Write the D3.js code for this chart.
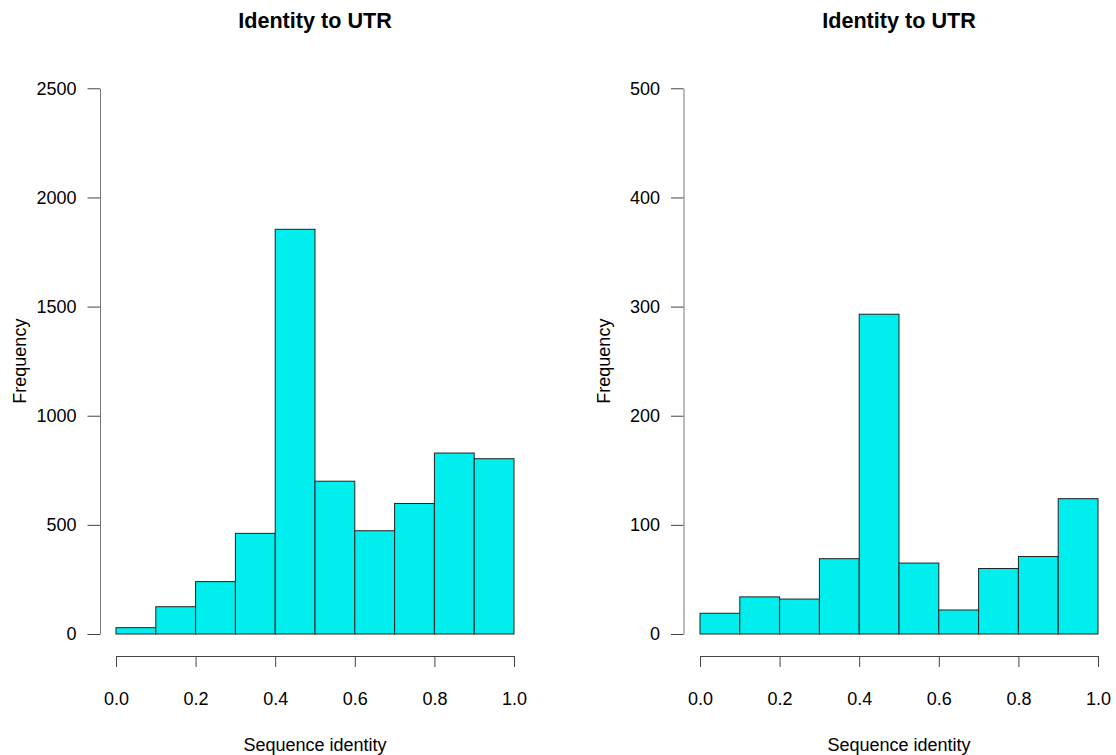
<!DOCTYPE html>
<html>
<head>
<meta charset="utf-8">
<script src="https://cdn.jsdelivr.net/npm/d3@7"></script>
<style>
  body { margin: 0; background: #fff; }
  svg { display: block; }
  text { font-family: "Liberation Sans", Arial, Helvetica, sans-serif; fill: #000; }
  .tick text { font-size: 18px; }
</style>
</head>
<body>
<div id="chart"></div>
<script>
// bin edges shared by both histograms
var binEdges = [0, 0.1, 0.2, 0.3, 0.4, 0.5, 0.6, 0.7, 0.8, 0.9, 1.0]

// counts per bin
var countsLeft = [29, 125, 240, 461, 1854, 700, 473, 598, 829, 803]
var countsRight = [19, 34, 32, 69, 293, 65, 22, 60, 71, 124]

var xTicks = [0, 0.2, 0.4, 0.6, 0.8, 1.0]
var yTicksLeft = [0, 500, 1000, 1500, 2000, 2500]
var yTicksRight = [0, 100, 200, 300, 400, 500]

var titles = ['Identity to UTR', 'Identity to UTR']
var xLabel = 'Sequence identity'
var yLabel = 'Frequency'

var W = 1116, H = 755
var svg = d3.select('#chart').append('svg')
  .attr('width', W).attr('height', H)

var panels = [
  {counts: countsLeft, yTicks: yTicksLeft, title: titles[0], x0: 116, x1: 514, axisX: 100, ylabX: 26},
  {counts: countsRight, yTicks: yTicksRight, title: titles[1], x0: 700, x1: 1098, axisX: 683.5, ylabX: 610}
]

var yBottom = 634, yTop = 88.3

panels.forEach(p => {
  var bins = p.counts.map((c, i) => ({lo: binEdges[i], hi: binEdges[i + 1], n: c}))

  var x = d3.scaleLinear().domain([0, 1]).range([p.x0, p.x1])
  var y = d3.scaleLinear().domain([0, d3.max(p.yTicks)]).range([yBottom, yTop])

  var g = svg.append('g')

  g.selectAll('rect.bar').data(bins).join('rect')
    .attr('class', 'bar')
    .attr('x', d => x(d.lo))
    .attr('y', d => y(d.n))
    .attr('width', d => x(d.hi) - x(d.lo))
    .attr('height', d => y(0) - y(d.n))
    .attr('fill', '#00eeee')
    .attr('stroke', '#222')
    .attr('stroke-width', 1)

  // y axis, R style: numbers horizontal, no outer ticks
  var yAxis = d3.axisLeft(y).tickValues(p.yTicks).tickFormat(d3.format('d'))
    .tickSize(12.5).tickSizeOuter(0).tickPadding(11)
  var ya = g.append('g').attr('transform', `translate(${p.axisX},0)`).call(yAxis)
  ya.select('.domain').attr('stroke', '#777')
  ya.selectAll('.tick line').attr('stroke', '#444')
  ya.selectAll('.tick text').attr('fill', '#222').style('font-family', '"Liberation Sans", Arial, sans-serif')

  // x axis below the bars
  var xAxis = d3.axisBottom(x).tickValues(xTicks).tickFormat(d3.format('.1f'))
    .tickSize(11).tickSizeOuter(0).tickPadding(25)
  var xa = g.append('g').attr('transform', 'translate(0,656)').call(xAxis)
  xa.select('.domain').attr('stroke', '#444')
  xa.selectAll('.tick line').attr('stroke', '#444')
  xa.selectAll('.tick text').attr('fill', '#222').style('font-family', '"Liberation Sans", Arial, sans-serif')

  var cx = (p.x0 + p.x1) / 2

  g.append('text')
    .attr('x', cx).attr('y', 28)
    .attr('text-anchor', 'middle')
    .style('font-size', '21.6px').style('font-weight', 'bold')
    .text(p.title)

  g.append('text')
    .attr('x', cx).attr('y', 751)
    .attr('text-anchor', 'middle')
    .style('font-size', '18px').attr('fill', '#222')
    .text(xLabel)

  g.append('text')
    .attr('transform', `translate(${p.ylabX},${(yTop + yBottom) / 2}) rotate(-90)`)
    .attr('text-anchor', 'middle')
    .style('font-size', '18px').attr('fill', '#222')
    .text(yLabel)
})
</script>
</body>
</html>
